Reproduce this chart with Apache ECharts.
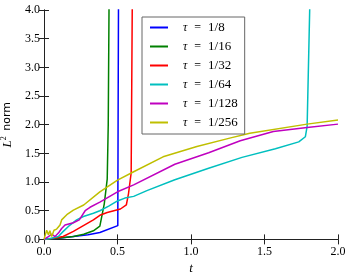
<!DOCTYPE html>
<html>
<head>
<meta charset="utf-8">
<script src="https://cdn.jsdelivr.net/npm/echarts@6/dist/echarts.min.js"></script>
<style>html,body{margin:0;padding:0;background:#fff}#c{width:350px;height:280px}</style>
</head>
<body>
<div id="c"></div>
<script>
const tauLabels = ['1/8', '1/16', '1/32', '1/64', '1/128', '1/256'];
const colors = ['#0000ff', '#008000', '#ff0000', '#00bfbf', '#bf00bf', '#bfbf00'];
const xTicks = [0, 0.5, 1.0, 1.5, 2.0];
const yTicks = [0, 0.5, 1.0, 1.5, 2.0, 2.5, 3.0, 3.5, 4.0];

const tau8 = [[0,0],[0.1,0.02],[0.2,0.05],[0.3,0.08],[0.38,0.12],[0.502,0.24],[0.504,2.0],[0.507,4.3]];
const tau16 = [[0,0],[0.06,0.01],[0.2,0.05],[0.27,0.09],[0.336,0.15],[0.38,0.23],[0.41,0.62],[0.43,1.05],[0.437,2.0],[0.443,4.3]];
const tau32 = [[0,0],[0.064,0.02],[0.13,0.05],[0.2,0.14],[0.268,0.24],[0.336,0.34],[0.38,0.42],[0.43,0.47],[0.52,0.53],[0.56,0.6],[0.575,0.8],[0.593,1.16],[0.601,4.3]];
const tau64 = [[0,0],[0.05,0.02],[0.098,0.05],[0.131,0.14],[0.177,0.25],[0.222,0.34],[0.268,0.4],[0.336,0.455],[0.38,0.5],[0.44,0.58],[0.5,0.67],[0.55,0.72],[0.61,0.75],[0.7,0.85],[0.89,1.04],[1.12,1.24],[1.347,1.43],[1.574,1.58],[1.733,1.70],[1.778,1.79],[1.79,1.97],[1.81,4.3]];
const tau128 = [[0,0],[0.005,0.02],[0.03,0.05],[0.052,0.09],[0.075,0.05],[0.098,0.11],[0.12,0.19],[0.143,0.25],[0.2,0.29],[0.24,0.34],[0.28,0.5],[0.313,0.56],[0.38,0.65],[0.5,0.83],[0.61,0.95],[0.89,1.31],[1.12,1.51],[1.335,1.72],[1.56,1.88],[1.79,1.95],[2.0,2.01]];
const tau256 = [[0,0],[0.005,0.02],[0.018,0.16],[0.03,0.08],[0.04,0.15],[0.052,0.05],[0.068,0.16],[0.086,0.18],[0.109,0.25],[0.12,0.34],[0.155,0.43],[0.2,0.51],[0.27,0.6],[0.38,0.83],[0.5,1.035],[0.61,1.18],[0.81,1.44],[1.04,1.62],[1.27,1.77],[1.40,1.85],[1.79,2.01],[2.0,2.08]];
const seriesData = [tau8, tau16, tau32, tau64, tau128, tau256];

const FONT = 'Liberation Serif';
const chart = echarts.init(document.getElementById('c'));
const axisCommon = {
  type: 'value',
  axisLine: { show: true, lineStyle: { color: '#222', width: 1 } },
  axisTick: { show: true, inside: true, length: 5, lineStyle: { color: '#222', width: 1 } },
  splitLine: { show: false },
  axisLabel: { show: false }
};
const fmt = v => v.toFixed(1);
chart.setOption({
  animation: false,
  backgroundColor: '#fff',
  grid: { left: 44, right: 12, top: 10, bottom: 40.6, containLabel: false, outerBoundsMode: 'none' },
  xAxis: [
    Object.assign({}, axisCommon, {
      position: 'bottom', min: xTicks[0], max: xTicks[xTicks.length - 1], interval: 0.5,
      axisLabel: { show: true, formatter: fmt, fontFamily: FONT, fontSize: 12, color: '#000', margin: 6 },
      name: 't', nameLocation: 'middle', nameGap: 22,
      nameTextStyle: { fontFamily: FONT, fontSize: 13, fontStyle: 'italic', color: '#000' }
    }),
    Object.assign({}, axisCommon, { position: 'top', min: xTicks[0], max: xTicks[xTicks.length - 1], interval: 0.5 })
  ],
  yAxis: [
    Object.assign({}, axisCommon, {
      position: 'left', min: yTicks[0], max: yTicks[yTicks.length - 1], interval: 0.5,
      axisLabel: { show: true, formatter: fmt, fontFamily: FONT, fontSize: 12, color: '#000', margin: 4 },
      name: '{i|L}{s|2} norm', nameLocation: 'middle', nameGap: 28, nameRotate: 90,
      nameTextStyle: { fontFamily: 'DejaVu Sans', fontSize: 11, color: '#000',
        rich: { i: { fontFamily: FONT, fontStyle: 'italic', fontSize: 13 },
                s: { fontFamily: FONT, fontSize: 8, padding: [0, 2, 7, 0] } } }
    }),
    Object.assign({}, axisCommon, { position: 'right', min: yTicks[0], max: yTicks[yTicks.length - 1], interval: 0.5 })
  ],
  legend: {
    orient: 'vertical', left: 142, top: 17,
    padding: [4, 7, 5, 8], itemGap: 6,
    borderColor: '#666', borderWidth: 1, borderRadius: 0, backgroundColor: '#fff',
    icon: 'rect', itemWidth: 18, itemHeight: 2,
    formatter: n => '{g|}{i|τ}{e|=}{n|' + n.split('= ')[1] + '}',
    textStyle: { fontFamily: FONT, fontSize: 12, color: '#000', lineHeight: 13,
      rich: { g: { width: 10 }, i: { fontStyle: 'italic', fontFamily: FONT, fontSize: 12 },
              e: { padding: [0, 7, 0, 7], fontFamily: FONT, fontSize: 12 },
              n: { fontFamily: FONT, fontSize: 13 } } }
  },
  series: seriesData.map((d, k) => ({
    name: 'τ = ' + tauLabels[k], type: 'line', data: d, xAxisIndex: 0, yAxisIndex: 0,
    showSymbol: false, symbol: 'none', clip: true,
    lineStyle: { color: colors[k], width: 1.5 }, itemStyle: { color: colors[k] }
  }))
});
</script>
</body>
</html>
